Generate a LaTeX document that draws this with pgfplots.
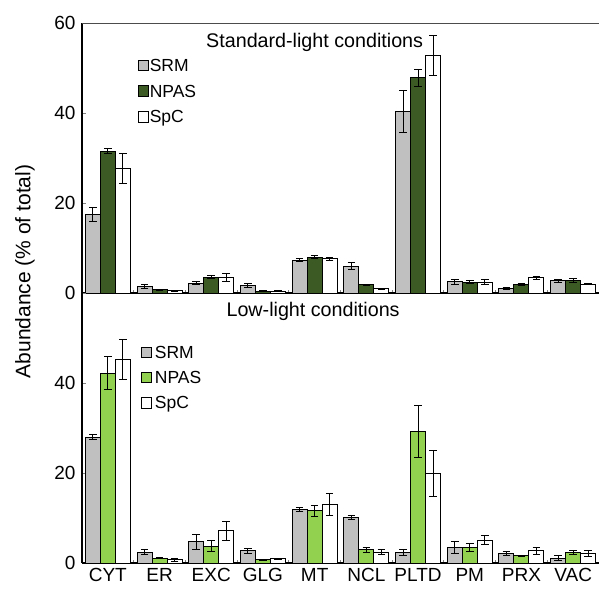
\documentclass[border=0pt]{standalone}
\usepackage{fontspec}
\setmainfont{Liberation Sans}
\usepackage{pgfplots}
\pgfplotsset{compat=1.18}

\definecolor{srm}{HTML}{C0C0C0}
\definecolor{npasdark}{HTML}{3B5A24}
\definecolor{npaslight}{HTML}{92D050}

\newcommand\tickfont{\fontsize{19}{22}\selectfont}
\newcommand\legfont{\fontsize{17.5}{20}\selectfont}

% standard-light conditions: x, value, error
\pgfplotstableread{
x y e
0 17.5 1.5
1 1.5 0.4
2 2.2 0.3
3 1.7 0.4
4 7.3 0.4
5 6.0 0.8
6 40.3 4.6
7 2.5 0.6
8 0.95 0.2
9 2.7 0.3
}\stdsrm
\pgfplotstableread{
x y e
0 31.5 0.6
1 0.75 0.1
2 3.5 0.3
3 0.4 0.05
4 8.0 0.3
5 1.8 0.1
6 47.8 1.9
7 2.4 0.3
8 1.9 0.2
9 2.8 0.5
}\stdnpas
\pgfplotstableread{
x y e
0 27.7 3.3
1 0.5 0.1
2 3.5 0.9
3 0.4 0.05
4 7.6 0.3
5 0.9 0.1
6 52.8 4.5
7 2.4 0.5
8 3.4 0.3
9 2.0 0.2
}\stdspc
% low-light conditions
\pgfplotstableread{
x y e
0 27.9 0.55
1 2.4 0.6
2 4.7 1.6
3 2.7 0.5
4 11.9 0.5
5 10.1 0.4
6 2.4 0.7
7 3.4 1.3
8 2.1 0.5
9 1.1 0.5
}\lowsrm
\pgfplotstableread{
x y e
0 42.2 3.7
1 1.1 0.1
2 3.7 1.2
3 0.7 0.1
4 11.6 1.2
5 2.9 0.5
6 29.2 5.7
7 3.4 0.9
8 1.6 0.1
9 2.4 0.4
}\lownpas
\pgfplotstableread{
x y e
0 45.2 4.4
1 0.7 0.3
2 7.2 2.1
3 0.9 0.2
4 13.0 2.5
5 2.4 0.6
6 19.9 5.2
7 5.1 1.0
8 2.7 0.8
9 2.1 0.7
}\lowspc

\pgfplotsset{
  panel/.style={
    width=517pt, height=270pt, scale only axis,
    xmin=-0.5, xmax=9.5, ymin=0, ymax=60,
    ybar=0pt, bar width=0.29,
    every axis plot post/.append style={
      legend image code/.code={\draw[##1, line width=0.9pt] (0pt,-4.5pt) rectangle (10.5pt,6pt);}},
    axis x line*=bottom, axis y line*=left,
    axis line style={-, line width=1.2pt},
    tick align=inside,
    ytick={0,20,40,60},
    major tick length=4pt,
    xtick={0,...,9},
    major x tick style={draw=none},
    minor xtick={0.5,1.5,...,8.5},
    minor tick length=3pt,
    minor x tick style={draw=gray, line width=1pt},
    ytick style={line width=1pt},
    tick label style={font=\tickfont},
    /pgf/number format/assume math mode=true,
    yticklabel style={xshift=-3pt},
    xticklabel style={yshift=-2pt},
    error bars/y dir=both, error bars/y explicit,
    error bars/error bar style={black, line width=1pt},
    error bars/error mark options={black, rotate=90, mark size=3.8pt, line width=1pt},
    legend cell align=left,
  },
  barstyle/.style={draw=black, line width=1pt},
}

\begin{document}
\begin{tikzpicture}
% top panel
\begin{axis}[panel,
  at={(82pt,-293pt)}, anchor=south west,
  xticklabels={},
  legend style={at={(axis description cs:0.1077,0.874)}, anchor=north west,
    draw=none, fill=none, inner sep=0pt, font=\legfont, row sep=8pt,
    /tikz/every odd column/.append style={column sep=-1.5pt}},
]
\addplot[barstyle, fill=srm] table[x=x, y=y, y error=e] {\stdsrm};
\addlegendentry{SRM}
\addplot[barstyle, fill=npasdark] table[x=x, y=y, y error=e] {\stdnpas};
\addlegendentry{NPAS}
\addplot[barstyle, fill=white] table[x=x, y=y, y error=e] {\stdspc};
\addlegendentry{SpC}
\draw[line width=1.2pt, black!70] (rel axis cs:0,1) -- (rel axis cs:1,1);
\node[anchor=base, font=\fontsize{19.7}{22}\selectfont] at (axis cs:4.0,54.5) {Standard-light conditions};
\end{axis}
% bottom panel
\begin{axis}[panel,
  at={(82pt,-563pt)}, anchor=south west,
  yticklabels={0,20,40,{}},
  xticklabels={CYT,ER,EXC,GLG,MT,NCL,PLTD,PM,PRX,VAC},
  legend style={at={(axis description cs:0.1128,0.811)}, anchor=north west,
    draw=none, fill=none, inner sep=0pt, font=\legfont, row sep=7.5pt,
    /tikz/every odd column/.append style={column sep=1pt}},
]
\addplot[barstyle, fill=srm] table[x=x, y=y, y error=e] {\lowsrm};
\addlegendentry{SRM}
\addplot[barstyle, fill=npaslight] table[x=x, y=y, y error=e] {\lownpas};
\addlegendentry{NPAS}
\addplot[barstyle, fill=white] table[x=x, y=y, y error=e] {\lowspc};
\addlegendentry{SpC}
\node[anchor=base, font=\fontsize{19.7}{22}\selectfont] at (axis cs:3.97,54.7) {Low-light conditions};
\end{axis}
\node[rotate=90, font=\fontsize{21}{24}\selectfont] at (25pt,-271.5pt) {Abundance (\% of total)};
\pgfresetboundingbox
\path (0pt,0pt) rectangle (599pt,-590pt);
\end{tikzpicture}
\end{document}
